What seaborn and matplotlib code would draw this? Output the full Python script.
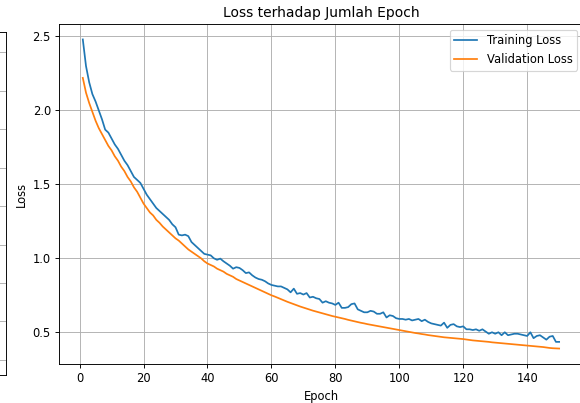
import numpy as np
import matplotlib
matplotlib.use("Agg")
import matplotlib.pyplot as plt
import seaborn as sns

# values
epochs = list(range(1, 151))

train_loss = [
    2.48, 2.30, 2.19, 2.11, 2.06, 2.00, 1.94, 1.87, 1.85, 1.81,
    1.77, 1.74, 1.70, 1.66, 1.63, 1.59, 1.55, 1.53, 1.51, 1.47,
    1.43, 1.40, 1.37, 1.34, 1.32, 1.30, 1.28, 1.26, 1.23, 1.21,
    1.16, 1.155, 1.16, 1.15, 1.11, 1.09, 1.07, 1.05, 1.03, 1.025,
    1.02, 1.00, 0.99, 0.998, 0.98, 0.965, 0.95, 0.93, 0.94, 0.935,
    0.92, 0.90, 0.905, 0.885, 0.87, 0.86, 0.855, 0.845, 0.83, 0.82,
    0.815, 0.81, 0.81, 0.80, 0.79, 0.77, 0.795, 0.76, 0.765, 0.755,
    0.765, 0.735, 0.74, 0.73, 0.725, 0.70, 0.71, 0.70, 0.695, 0.685,
    0.70, 0.665, 0.665, 0.67, 0.69, 0.695, 0.655, 0.645, 0.635, 0.635,
    0.645, 0.64, 0.625, 0.625, 0.635, 0.60, 0.615, 0.61, 0.595, 0.59,
    0.59, 0.585, 0.59, 0.58, 0.585, 0.59, 0.575, 0.585, 0.57, 0.56,
    0.555, 0.55, 0.545, 0.565, 0.53, 0.55, 0.555, 0.54, 0.535, 0.54,
    0.52, 0.52, 0.515, 0.52, 0.51, 0.52, 0.505, 0.49, 0.50, 0.49,
    0.50, 0.48, 0.50, 0.48, 0.485, 0.49, 0.49, 0.485, 0.48, 0.475,
    0.50, 0.46, 0.475, 0.48, 0.465, 0.45, 0.47, 0.475, 0.435, 0.435,
]

val_loss = [
    2.22, 2.12, 2.05, 1.99, 1.93, 1.88, 1.84, 1.80, 1.76, 1.73,
    1.69, 1.66, 1.62, 1.59, 1.55, 1.52, 1.48, 1.45, 1.41, 1.37,
    1.34, 1.31, 1.29, 1.26, 1.24, 1.215, 1.195, 1.175, 1.155, 1.135,
    1.12, 1.10, 1.08, 1.06, 1.045, 1.03, 1.015, 1.00, 0.98, 0.965,
    0.955, 0.945, 0.93, 0.92, 0.91, 0.895, 0.885, 0.875, 0.86, 0.85,
    0.84, 0.83, 0.82, 0.81, 0.80, 0.79, 0.78, 0.77, 0.76, 0.75,
    0.742, 0.733, 0.724, 0.715, 0.706, 0.698, 0.69, 0.682, 0.674, 0.667,
    0.66, 0.653, 0.646, 0.64, 0.634, 0.628, 0.622, 0.616, 0.61, 0.605,
    0.60, 0.595, 0.59, 0.584, 0.579, 0.574, 0.569, 0.564, 0.56, 0.555,
    0.551, 0.547, 0.543, 0.539, 0.535, 0.531, 0.527, 0.523, 0.519, 0.515,
    0.511, 0.507, 0.503, 0.499, 0.495, 0.492, 0.488, 0.485, 0.481, 0.478,
    0.475, 0.472, 0.469, 0.466, 0.464, 0.462, 0.46, 0.458, 0.456, 0.454,
    0.451, 0.448, 0.445, 0.443, 0.441, 0.439, 0.437, 0.435, 0.432, 0.43,
    0.428, 0.426, 0.424, 0.422, 0.42, 0.418, 0.416, 0.414, 0.412, 0.41,
    0.408, 0.406, 0.404, 0.402, 0.40, 0.397, 0.394, 0.392, 0.391, 0.39,
]

DPI = 83
fig = plt.figure(figsize=(580 / DPI, 403 / DPI), dpi=DPI)

# edge of the neighbouring subplot (mostly outside the crop)
ax_left = fig.add_axes([-0.6, 0.0695, 0.6103, 0.851])
ax_left.set_ylim(-0.39, 8.52)
ax_left.set_yticks(range(0, 9))
ax_left.set_xticks([])
ax_left.tick_params(left=False, labelleft=False)
ax_left.grid(True)

# main loss plot
ax = fig.add_axes([0.1017, 0.0968, 0.9034, 0.8437])
sns.lineplot(x=epochs, y=train_loss, label="Training Loss", ax=ax)
sns.lineplot(x=epochs, y=val_loss, label="Validation Loss", ax=ax)
ax.set_title("Loss terhadap Jumlah Epoch")
ax.set_xlabel("Epoch")
ax.set_ylabel("Loss")
ax.grid(True)
ax.legend(loc="upper right")

fig.savefig("out.png", dpi=DPI)
